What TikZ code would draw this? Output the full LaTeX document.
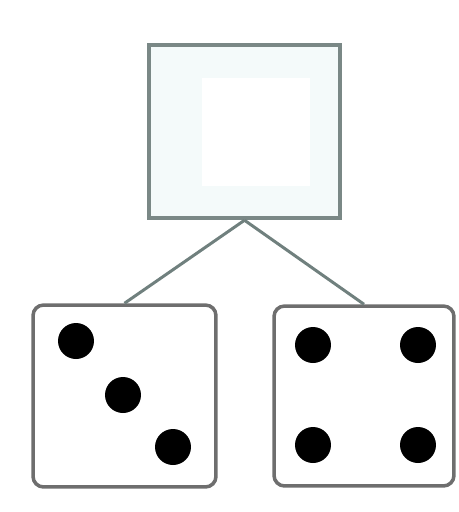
\documentclass[tikz,border=0pt]{standalone}
\usepackage{xcolor}
\usepackage{tikz}
\usetikzlibrary{positioning, calc}
\definecolor{framegray}{RGB}{122,136,134}
\definecolor{diegray}{RGB}{110,110,110}
\definecolor{linkgray}{RGB}{112,128,126}
\definecolor{paletint}{RGB}{244,250,250}
\tikzset{
  framebox/.style={rectangle, draw=framegray, fill=paletint, line width=0.09cm,
    inner sep=0pt, minimum width=3.82cm, minimum height=3.46cm},
  diebox/.style={rectangle, draw=diegray, fill=white, line width=0.07cm,
    rounded corners=6pt, inner sep=0pt},
  pip/.style={circle, fill=black, inner sep=0pt, minimum size=0.72cm},
  link/.style={line width=0.06cm, color=linkgray}
}

\begin{document}
\begin{tikzpicture}[x=0.02cm, y=-0.02cm]
  \useasboundingbox (0,0) rectangle (458,512);

  % Top frame (empty)
  \node[framebox] (frame) at (244.5,131.5) {};
  \fill[white] (202,78) rectangle (310,186);

  % Dice
  \node[diebox, minimum width=3.66cm, minimum height=3.64cm] (dieL) at (124.5,396) {};
  \node[diebox, minimum width=3.6cm, minimum height=3.6cm] (dieR) at (364,396) {};

  % Links from frame to dice
  \draw[link] (frame.south) -- (dieL.north);
  \draw[link] (frame.south) -- (dieR.north);

  % Pips, left die (three)
  \node[pip] (pL1) at (76,341) {};
  \node[pip] (pL2) at (123,395) {};
  \node[pip] (pL3) at (173,447) {};

  % Pips, right die (four)
  \node[pip] (pR1) at (313,345) {};
  \node[pip] (pR2) at (418,345) {};
  \node[pip] (pR3) at (313,445) {};
  \node[pip] (pR4) at (418,445) {};
\end{tikzpicture}
\end{document}
